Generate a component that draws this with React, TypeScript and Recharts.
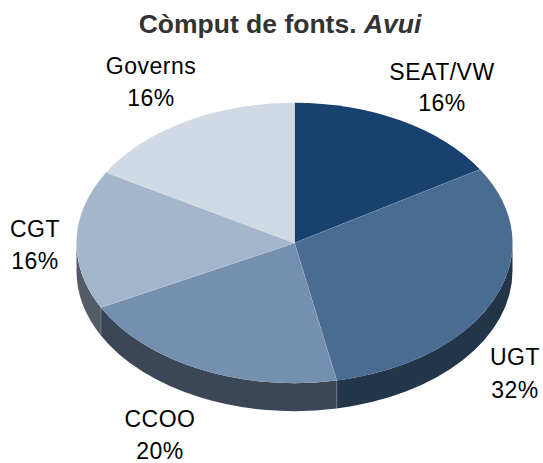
import { PieChart, Pie } from "recharts";

const names = ["SEAT/VW", "UGT", "CCOO", "CGT", "Governs"];
// slice sizes (the printed labels are rounded differently)
const shares = [16.2, 30.7, 20.5, 16, 16.6];
const percentLabels = ["16%", "32%", "20%", "16%", "16%"];
const topColors = ["#17416F", "#4A6B92", "#7590AE", "#A3B6CB", "#D1D9E5"];
const sideColors = ["#0E2239", "#223549", "#3B4756", "#525B66", "#666B72"];

const data = names.map((name, i) => ({
  name,
  value: shares[i],
  fill: topColors[i],
  side: sideColors[i],
  percent: percentLabels[i],
}));

// label centres in px, first line / second line
const labelPos = [
  { x: 442, y: 72, y2: 103 },
  { x: 515, y: 357, y2: 390 },
  { x: 160, y: 419, y2: 451 },
  { x: 35, y: 229, y2: 261 },
  { x: 151, y: 66, y2: 98 },
];

const CX = 294.5;
const CY = 243;
const RX = 218;
const SQUASH = 0.643; // ellipse height / width
const DEPTH = 28;

const pt = (cx: number, cy: number, r: number, deg: number) => {
  const a = (deg * Math.PI) / 180;
  return [cx + r * Math.cos(a), cy - r * SQUASH * Math.sin(a)];
};

// top face, flattened to an ellipse
function TopSlice(props: any) {
  const { cx, cy, outerRadius: r, startAngle, endAngle, fill } = props;
  const [x1, y1] = pt(cx, cy, r, startAngle);
  const [x2, y2] = pt(cx, cy, r, endAngle);
  const large = Math.abs(startAngle - endAngle) > 180 ? 1 : 0;
  const ry = r * SQUASH;
  return (
    <g>
      <path d={`M${cx},${cy} L${x1},${y1} A${r},${ry} 0 ${large} 1 ${x2},${y2} Z`} fill={fill} />
      <line x1={cx} y1={cy} x2={x2} y2={y2} stroke="rgba(255,255,255,0.3)" strokeWidth={1} />
    </g>
  );
}

// side wall, only the part of the slice on the front half
function SideSlice(props: any) {
  const { cx, cy, outerRadius: r, startAngle, endAngle, payload } = props;
  const from = Math.min(startAngle, 0);
  const to = Math.max(endAngle, -180);
  if (from <= to) return null;
  const [x1, y1] = pt(cx, cy, r, from);
  const [x2, y2] = pt(cx, cy, r, to);
  const ry = r * SQUASH;
  const d =
    `M${x1},${y1} A${r},${ry} 0 0 1 ${x2},${y2} ` +
    `L${x2},${y2 + DEPTH} A${r},${ry} 0 0 0 ${x1},${y1 + DEPTH} Z`;
  return (
    <g>
      <path d={d} fill={payload.side ?? props.side} />
      {endAngle > -180 && (
        <line x1={x2} y1={y2} x2={x2} y2={y2 + DEPTH} stroke="rgba(255,255,255,0.3)" strokeWidth={1} />
      )}
    </g>
  );
}

function renderLabel(props: any) {
  const { index } = props;
  const p = labelPos[index];
  const style = { fontFamily: "'Liberation Sans', Arial, sans-serif", fontSize: 23, letterSpacing: 0.5 };
  return (
    <g key={index}>
      <text x={p.x} y={p.y} textAnchor="middle" dominantBaseline="central" fill="#000" style={style}>
        {names[index]}
      </text>
      <text x={p.x} y={p.y2} textAnchor="middle" dominantBaseline="central" fill="#000" style={style}>
        {percentLabels[index]}
      </text>
    </g>
  );
}

export default function App() {
  return (
    <div style={{ position: "absolute", left: 0, top: 0, width: 543, height: 463, background: "#fff" }}>
      <div
        style={{
          position: "absolute",
          top: 10,
          left: 0,
          width: 560,
          textAlign: "center",
          fontFamily: "'Liberation Sans', Arial, sans-serif",
          fontWeight: 700,
          fontSize: 26.5,
          lineHeight: "28px",
          color: "#333",
        }}
      >
        Còmput de fonts. <i>Avui</i>
      </div>
      <PieChart
        width={543}
        height={463}
        margin={{ top: 0, right: 0, bottom: 0, left: 0 }}
        style={{ position: "absolute", left: 0, top: 0 }}
      >
        <Pie
          data={data}
          dataKey="value"
          cx={CX}
          cy={CY}
          innerRadius={0}
          outerRadius={RX}
          startAngle={90}
          endAngle={-270}
          stroke="none"
          shape={SideSlice}
          isAnimationActive={false}
        />
        <Pie
          data={data}
          dataKey="value"
          cx={CX}
          cy={CY}
          innerRadius={0}
          outerRadius={RX}
          startAngle={90}
          endAngle={-270}
          stroke="none"
          shape={TopSlice}
          label={renderLabel}
          labelLine={false}
          isAnimationActive={false}
        />
      </PieChart>
    </div>
  );
}
